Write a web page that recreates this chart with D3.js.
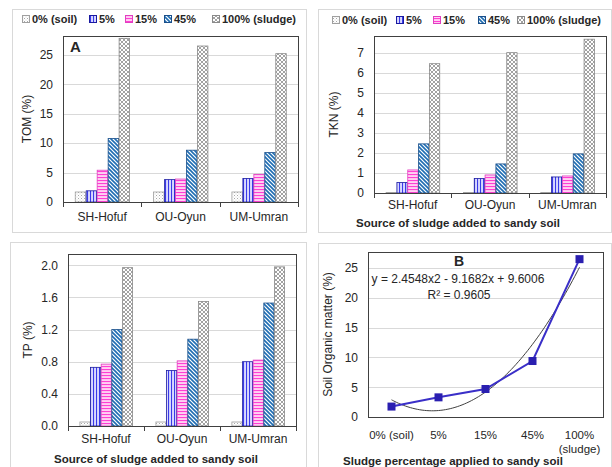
<!DOCTYPE html>
<html><head><meta charset="utf-8">
<script src="https://cdn.jsdelivr.net/npm/d3@7/dist/d3.min.js"></script>
<style>
body{margin:0;background:#fff;}
text{font-family:"Liberation Sans",Arial,sans-serif;fill:#262626;}
</style></head>
<body><svg id="c" width="612" height="467"></svg>
<script>
// ---------- DATA ----------
const categories = ["SH-Hofuf", "OU-Oyun", "UM-Umran"];
const seriesNames = ["0% (soil)", "5%", "15%", "45%", "100% (sludge)"];
// values per category, in series order
const tomValues = [[1.7, 1.9, 5.4, 10.8, 27.8], [1.7, 3.8, 3.9, 8.8, 26.5], [1.7, 4.0, 4.7, 8.4, 25.2]];
const tknValues = [[0.03, 0.52, 1.15, 2.45, 6.45], [0.03, 0.72, 0.9, 1.45, 7.0], [0.03, 0.8, 0.85, 1.95, 7.67]];
const tpValues = [[0.05, 0.73, 0.77, 1.2, 1.97], [0.05, 0.69, 0.81, 1.08, 1.55], [0.05, 0.8, 0.82, 1.53, 1.98]];
const tomTicks = [0, 5, 10, 15, 20, 25];
const tknTicks = [0, 1, 2, 3, 4, 5, 6, 7];
const tpTicks = [0, 0.4, 0.8, 1.2, 1.6, 2.0];
const somLabels = ["0% (soil)", "5%", "15%", "45%", "100% (sludge)"];
const somValues = [1.75, 3.3, 4.7, 9.4, 26.5];
const somTicks = [0, 5, 10, 15, 20, 25];
const trendCoef = [2.4548, -9.1682, 9.6006]; // y = a x^2 + b x + c (from chart label)

const svg = d3.select("#c");
const defs = svg.append("defs");

// ---------- PATTERNS ----------
function pat(id, w, h, build) {
  const p = defs.append("pattern").attr("id", id).attr("patternUnits", "userSpaceOnUse")
    .attr("width", w).attr("height", h);
  p.append("rect").attr("width", w).attr("height", h).attr("fill", "#fff");
  build(p);
}
pat("p0", 3, 3, p => {
  p.append("rect").attr("x", 0).attr("y", 0).attr("width", 1).attr("height", 1).attr("fill", "#a8a8a8");
  p.append("rect").attr("x", 1.5).attr("y", 1.5).attr("width", 1).attr("height", 1).attr("fill", "#d0d0d0");
});
pat("p1", 3, 3, p => {
  p.append("rect").attr("x", 0).attr("y", 0).attr("width", 1.3).attr("height", 3).attr("fill", "#3a3ae8");
  p.append("rect").attr("x", 1.3).attr("y", 0).attr("width", 1.7).attr("height", 3).attr("fill", "#d8d8ff");
});
pat("p2", 3, 3, p => {
  p.append("rect").attr("x", 0).attr("y", 0).attr("width", 3).attr("height", 1.4).attr("fill", "#ff3fd4");
  p.append("rect").attr("x", 0).attr("y", 1.4).attr("width", 3).attr("height", 1.6).attr("fill", "#ffd0f2");
});
pat("p3", 4, 4, p => {
  p.append("path").attr("d", "M-1,-1 L5,5 M-1,3 L1,5 M3,-1 L5,1").attr("stroke", "#1f6db3").attr("stroke-width", 1.6);
});
pat("p4", 4, 4, p => {
  p.append("path").attr("d", "M0,0 L4,4 M4,0 L0,4").attr("stroke", "#8a8a8a").attr("stroke-width", 0.8);
});
const fills = ["url(#p0)", "url(#p1)", "url(#p2)", "url(#p3)", "url(#p4)"];
const strokes = ["#a0a0a0", "#1a1aa0", "#e040c0", "#1a4f8a", "#8a8a8a"];

// ---------- PANEL FRAMES ----------
const frames = [[12, 9, 294, 223], [318, 9, 293, 223], [10, 242, 296, 230], [318, 243, 293, 230]];
frames.forEach(f => svg.append("rect").attr("x", f[0] + 0.5).attr("y", f[1] + 0.5).attr("width", f[2]).attr("height", f[3])
  .attr("fill", "#fff").attr("stroke", "#d9d9d9"));

// ---------- LEGEND ----------
function legend(y, xs) {
  const g = svg.append("g");
  seriesNames.forEach((s, i) => {
    g.append("rect").attr("x", xs[i] + 0.5).attr("y", y - 7.5).attr("width", 7).attr("height", 7)
      .attr("fill", fills[i]).attr("stroke", strokes[i]);
    g.append("text").attr("x", xs[i] + 10).attr("y", y).attr("font-size", 11).attr("font-weight", "bold").text(s);
  });
}

// ---------- BAR PANEL ----------
function barPanel(o) {
  const x = d3.scaleBand().domain(categories).range([o.left, o.right]);
  const y = d3.scaleLinear().domain([0, o.ymax]).range([o.bottom, o.top]);
  const g = svg.append("g");
  g.selectAll(".grid").data(o.ticks.filter(t => t > 0)).join("line")
    .attr("x1", o.left).attr("x2", o.right).attr("y1", d => Math.round(y(d)) + 0.5).attr("y2", d => Math.round(y(d)) + 0.5)
    .attr("stroke", "#d9d9d9");
  const groupW = x.bandwidth() * 0.70;
  const xs = d3.scaleBand().domain(d3.range(seriesNames.length)).range([0, groupW]);
  categories.forEach((c, ci) => {
    const gx = x(c) + (x.bandwidth() - groupW) / 2;
    g.selectAll(null).data(o.values[ci]).join("rect")
      .attr("x", (d, i) => gx + xs(i) + 0.5).attr("width", xs.bandwidth() - 0.5)
      .attr("y", d => y(Math.min(d, o.ymax))).attr("height", d => o.bottom - y(Math.min(d, o.ymax)))
      .attr("fill", (d, i) => fills[i]).attr("stroke", (d, i) => strokes[i]).attr("stroke-width", 0.8);
  });
  g.append("rect").attr("x", o.left + 0.5).attr("y", o.top + 0.5).attr("width", o.right - o.left).attr("height", o.bottom - o.top)
    .attr("fill", "none").attr("stroke", "#404040").attr("stroke-width", 1);
  const ya = d3.axisLeft(y).tickValues(o.ticks).tickSize(0).tickPadding(10).tickFormat(o.fmt);
  const yg = g.append("g").attr("transform", `translate(${o.left},0)`).call(ya);
  yg.select(".domain").remove();
  yg.selectAll("text").attr("font-size", 12).style("font-family", "Liberation Sans, Arial, sans-serif").attr("fill", "#262626");
  const xa = d3.axisBottom(x).tickSize(0).tickPadding(10);
  const xg = g.append("g").attr("transform", `translate(0,${o.bottom})`).call(xa);
  xg.select(".domain").attr("stroke", "#404040");
  xg.selectAll("text").attr("font-size", 12).style("font-family", "Liberation Sans, Arial, sans-serif").attr("fill", "#262626")
    .attr("dy", o.xdy);
  const bounds = categories.map(c => x(c)).concat([o.right]);
  g.selectAll(null).data(bounds).join("line").attr("x1", d => Math.round(d) + 0.5).attr("x2", d => Math.round(d) + 0.5)
    .attr("y1", o.bottom).attr("y2", o.bottom + 5).attr("stroke", "#404040");
  g.append("text").attr("transform", `translate(${o.ylabX},${(o.top + o.bottom) / 2}) rotate(-90)`)
    .attr("text-anchor", "middle").attr("font-size", 12).text(o.ylabel);
  if (o.xtitle) g.append("text").attr("x", o.xtitleX).attr("y", o.xtitleY).attr("text-anchor", "middle")
    .attr("font-size", 11.5).attr("font-weight", "bold").attr("fill", "#000").text(o.xtitle);
  if (o.letter) g.append("text").attr("x", o.left + 7).attr("y", o.top + 16).attr("font-size", 15)
    .attr("font-weight", "bold").attr("fill", "#000").text(o.letter);
}

barPanel({left: 63, right: 298, top: 36, bottom: 202, ymax: 28.2, ticks: tomTicks, values: tomValues,
  fmt: d3.format("d"), ylabel: "TOM (%)", ylabX: 31, letter: "A", xdy: "0.71em"});
barPanel({left: 374, right: 606, top: 36, bottom: 193, ymax: 7.83, ticks: tknTicks, values: tknValues,
  fmt: d3.format("d"), ylabel: "TKN (%)", ylabX: 338, xtitle: "Source of sludge added to sandy soil",
  xtitleX: 458, xtitleY: 227, xdy: "0.5em"});
barPanel({left: 68, right: 296, top: 254, bottom: 426, ymax: 2.14, ticks: tpTicks, values: tpValues,
  fmt: d3.format(".1f"), ylabel: "TP (%)", ylabX: 32, xtitle: "Source of sludge added to sandy soil",
  xtitleX: 156, xtitleY: 463, xdy: "0.6em"});

legend(23, [22, 89, 125, 164, 212]);
legend(24, [332, 396, 433, 478, 517]);

// ---------- PANEL B ----------
(function () {
  const L = 368, R = 603, T = 252, B = 417;
  const x = d3.scalePoint().domain(somLabels).range([L, R]).padding(0.5);
  const y = d3.scaleLinear().domain([0, 27.7]).range([B, T]);
  const g = svg.append("g");
  g.selectAll(null).data(somTicks.filter(t => t > 0)).join("line")
    .attr("x1", L).attr("x2", R).attr("y1", d => Math.round(y(d)) + 0.5).attr("y2", d => Math.round(y(d)) + 0.5)
    .attr("stroke", "#d9d9d9");
  g.append("rect").attr("x", L + 0.5).attr("y", T + 0.5).attr("width", R - L).attr("height", B - T)
    .attr("fill", "none").attr("stroke", "#404040");
  const step = x.step();
  const xi = v => x(somLabels[0]) + (v - 1) * step;
  const tr = d3.range(1, 5.001, 0.05).map(v => [xi(v), y(trendCoef[0] * v * v + trendCoef[1] * v + trendCoef[2])]);
  g.append("path").attr("d", d3.line().curve(d3.curveBasis)(tr)).attr("fill", "none").attr("stroke", "#404040").attr("stroke-width", 1);
  g.append("path").datum(somValues).attr("d", d3.line().x((d, i) => x(somLabels[i])).y(d => y(d)))
    .attr("fill", "none").attr("stroke", "#3a2fc8").attr("stroke-width", 2);
  g.selectAll(null).data(somValues).join("rect")
    .attr("x", (d, i) => x(somLabels[i]) - 4).attr("y", d => y(d) - 4).attr("width", 8).attr("height", 8)
    .attr("fill", "#2a1fb0");
  const ya = d3.axisLeft(y).tickValues(somTicks).tickSize(0).tickPadding(10).tickFormat(d3.format("d"));
  const yg = g.append("g").attr("transform", `translate(${L},0)`).call(ya);
  yg.select(".domain").remove();
  yg.selectAll("text").attr("font-size", 12).style("font-family", "Liberation Sans, Arial, sans-serif").attr("fill", "#262626");
  somLabels.forEach(lab => {
    const parts = lab === "100% (sludge)" ? ["100%", "(sludge)"] : [lab];
    const t = g.append("text").attr("x", x(lab)).attr("y", 439).attr("text-anchor", "middle").attr("font-size", 11.5);
    parts.forEach((p, k) => t.append("tspan").attr("x", x(lab)).attr("dy", k ? 14 : 0).text(p));
  });
  g.append("text").attr("transform", `translate(332,${(T + B) / 2}) rotate(-90)`).attr("text-anchor", "middle")
    .attr("font-size", 12).text("Soil Organic matter (%)");
  g.append("text").attr("x", 453).attr("y", 465).attr("text-anchor", "middle").attr("font-size", 11.5).attr("font-weight", "bold")
    .attr("fill", "#000").text("Sludge percentage applied to sandy soil");
  g.append("text").attr("x", 459).attr("y", 266).attr("text-anchor", "middle").attr("font-size", 14).attr("font-weight", "bold")
    .attr("fill", "#000").text("B");
  g.append("text").attr("x", 458).attr("y", 283).attr("text-anchor", "middle").attr("font-size", 12)
    .text("y = 2.4548x2 - 9.1682x + 9.6006");
  g.append("text").attr("x", 459).attr("y", 299).attr("text-anchor", "middle").attr("font-size", 12)
    .text("R² = 0.9605");
})();
</script></body></html>
